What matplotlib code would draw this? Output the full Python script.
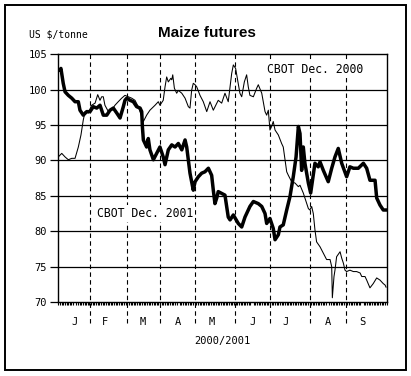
import matplotlib
matplotlib.use('Agg')
import matplotlib.pyplot as plt
from matplotlib.patches import Rectangle

# trading-day index (0..200) and price in US $/tonne
dec2001_day = [1.0, 1.6, 3.0, 4.1, 6.1, 8.2, 10.2, 12.2, 13.2, 15.2, 17.3, 19.3, 21.3, 23.4, 25.4,
               27.4, 29.5, 31.5, 33.5, 35.6, 37.6, 39.6, 40.6, 41.7, 43.7, 45.7, 47.7, 49.8, 50.8,
               51.2, 51.8, 53.8, 54.8, 55.8, 57.9, 59.9, 61.9, 63.9, 65.0, 67.0, 69.1, 71.1, 73.1,
               75.2, 77.2, 78.2, 80.2, 82.2, 83.3, 85.3, 87.3, 89.3, 91.4, 93.4, 94.4, 95.4, 96.5,
               97.4, 101.5, 103.5, 104.6, 106.6, 109.6, 111.7, 113.7, 116.7, 118.8, 121.8, 123.9,
               125.9, 126.9, 128.9, 130.9, 132.0, 134.0, 135.0, 137.0, 139.1, 141.1, 143.1, 144.8,
               146.2, 147.2, 148.2, 149.2, 150.2, 152.3, 153.7, 156.3, 158.3, 159.4, 161.4, 164.4,
               166.5, 168.5, 170.5, 172.6, 175.6, 177.6, 179.7, 182.7, 185.8, 187.8, 189.8, 192.9,
               193.9, 195.9, 197.9, 199.6]
dec2001_val = [102.8, 103.0, 100.9, 99.7, 99.2, 98.8, 98.3, 98.3, 97.1, 96.4, 96.9, 96.9, 97.6, 97.4,
               97.8, 96.4, 96.4, 97.1, 97.4, 96.7, 96.0, 97.6, 98.5, 98.8, 98.5, 98.3, 97.6, 97.4,
               96.9, 94.8, 92.9, 91.9, 93.1, 91.5, 90.1, 91.0, 91.9, 90.5, 89.4, 91.5, 92.2, 91.9,
               92.4, 91.5, 92.9, 91.9, 88.2, 85.8, 87.0, 87.7, 88.2, 88.4, 88.9, 87.9, 85.8, 83.9,
               84.7, 85.6, 85.1, 82.0, 81.6, 82.3, 81.1, 80.6, 82.0, 83.5, 84.2, 83.9, 83.5, 82.5,
               81.1, 81.8, 80.4, 78.8, 79.5, 80.6, 80.9, 83.0, 84.9, 87.7, 90.5, 94.8, 93.8, 88.6,
               91.9, 89.6, 86.8, 85.4, 89.6, 89.1, 89.8, 88.6, 87.0, 88.9, 90.5, 91.7, 89.6, 87.7,
               89.1, 88.9, 88.9, 89.6, 88.9, 87.2, 87.2, 84.7, 83.7, 83.0, 83.0]

dec2000_day = [0, 2.1, 4.1, 6.1, 8.2, 10.2, 12.2, 13.8, 15.2, 16.3, 18.3, 20.3, 22.4, 24.0, 25.4,
               26.4, 27.4, 28.4, 30.5, 32.5, 34.5, 36.5, 38.6, 40.6, 42.6, 44.7, 46.7, 48.7, 50.8,
               51.8, 53.8, 55.8, 58.9, 60.9, 61.9, 63.9, 65.0, 66.0, 67.0, 68.5, 69.1, 69.7, 70.7,
               72.1, 73.1, 75.2, 77.2, 79.2, 80.2, 81.2, 82.2, 83.3, 84.3, 86.3, 88.3, 90.4, 92.4,
               94.4, 96.5, 97.4, 99.5, 101.5, 103.5, 104.6, 105.6, 106.6, 108.0, 109.6, 110.6,
               111.7, 113.3, 114.7, 115.7, 116.7, 118.8, 120.8, 121.8, 123.9, 125.9, 126.9, 127.9,
               128.9, 129.9, 130.9, 132.0, 134.0, 136.0, 137.0, 138.1, 139.1, 140.1, 142.1, 144.2,
               146.2, 147.2, 149.2, 151.3, 152.3, 153.2, 154.3, 155.3, 156.3, 157.3, 159.4, 161.4,
               163.4, 165.5, 166.5, 166.9, 167.9, 168.5, 169.5, 171.6, 172.6, 173.6, 174.6, 175.6,
               177.6, 179.7, 181.7, 183.8, 184.8, 186.8, 187.8, 189.8, 191.8, 193.9, 195.9, 197.9,
               199.0, 199.6]
dec2000_val = [90.5, 91.0, 90.5, 90.1, 90.3, 90.3, 91.9, 93.6, 95.7, 96.9, 96.7, 97.8, 98.1, 99.3,
               98.5, 99.0, 99.0, 97.8, 96.9, 97.1, 97.8, 98.3, 98.8, 99.2, 99.0, 98.8, 98.5, 97.6,
               96.2, 95.5, 96.4, 97.1, 97.8, 98.3, 97.8, 98.5, 100.4, 101.8, 101.1, 101.6, 101.4,
               102.1, 100.2, 99.5, 99.9, 99.5, 98.8, 97.6, 97.4, 99.9, 100.9, 100.7, 100.4, 99.2,
               98.3, 96.9, 98.3, 97.1, 98.1, 98.5, 98.1, 99.5, 98.3, 100.4, 102.3, 103.5, 103.0,
               100.9, 99.5, 99.0, 101.1, 102.1, 100.4, 99.2, 99.0, 100.2, 100.7, 99.5, 96.9, 96.4,
               97.1, 94.3, 94.8, 95.5, 94.3, 93.6, 92.4, 91.9, 90.1, 88.4, 87.9, 87.0, 86.8, 86.3,
               86.5, 85.4, 83.9, 83.2, 83.0, 83.5, 82.5, 80.2, 78.5, 77.8, 76.9, 76.0, 76.0, 75.0,
               70.6, 73.6, 74.5, 76.4, 77.1, 76.2, 75.5, 74.5, 74.3, 74.5, 74.3, 74.3, 74.1, 73.6,
               73.6, 73.1, 72.0, 72.6, 73.4, 73.1, 72.6, 72.4, 72.1]

month_edges = [19.5, 41.7, 62.0, 83.4, 107.6, 129.1, 153.3, 175.2]
month_pos = [10, 28.5, 51.5, 73, 93.5, 118, 138.5, 164, 185]
month_labels = ['J', 'F', 'M', 'A', 'M', 'J', 'J', 'A', 'S']
yticks = [70, 75, 80, 85, 90, 95, 100, 105]

mono = 'DejaVu Sans Mono'

fig = plt.figure(figsize=(4.11, 3.76), dpi=100)
fig.patches.append(Rectangle((5 / 411, 1 - 369.5 / 376), 401 / 411, 364.5 / 376,
                             transform=fig.transFigure, fill=False, lw=1.4, ec='black'))

ax = fig.add_axes([58.3 / 411, 74 / 376, 328.4 / 411, 247.7 / 376])
ax.set_xlim(0, 200)
ax.set_ylim(70, 105)

for y in yticks[1:-1]:
    ax.axhline(y, color='black', lw=0.9, zorder=1)
for x in month_edges:
    ax.plot([x, x], [-0.085, 1], transform=ax.get_xaxis_transform(), color='black',
            lw=0.8, ls=(0, (4, 3)), clip_on=False, zorder=1)

ax.plot(dec2000_day, dec2000_val, color='black', lw=0.75, zorder=3)
ax.plot(dec2001_day, dec2001_val, color='black', lw=2.5, zorder=4)

for s in ax.spines.values():
    s.set_linewidth(1.0)

ax.set_yticks(yticks)
ax.set_yticklabels([str(v) for v in yticks], fontfamily=mono, fontsize=7.5)
ax.tick_params(axis='y', length=6, width=0.9, pad=2)

ax.set_xticks(month_pos)
ax.set_xticklabels(month_labels, fontfamily=mono, fontsize=7.5)
ax.set_xticks(range(0, 201), minor=True)
ax.tick_params(axis='x', which='major', length=0, pad=11)
ax.tick_params(axis='x', which='minor', length=2.5, width=0.8)
ax.set_xlabel('2000/2001', fontfamily=mono, fontsize=7.5, labelpad=6)

box = dict(facecolor='white', edgecolor='none', pad=1.5)
ax.text(127, 102.9, 'CBOT Dec. 2000', fontfamily=mono, fontsize=8.3, va='center', ha='left',
        bbox=box, zorder=5)
ax.text(23.5, 82.5, 'CBOT Dec. 2001', fontfamily=mono, fontsize=8.3, va='center', ha='left',
        bbox=box, zorder=2)

fig.text(207 / 411, 1 - 33 / 376, 'Maize futures', fontfamily='Liberation Sans',
         fontweight='bold', fontsize=11, ha='center', va='center')
fig.text(29 / 411, 1 - 34.5 / 376, 'US $/tonne', fontfamily=mono, fontsize=7,
         ha='left', va='center')

fig.savefig('out.png', dpi=100)
